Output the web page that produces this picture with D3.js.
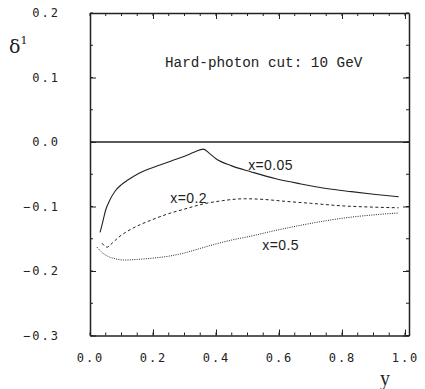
<!DOCTYPE html>
<html>
<head>
<meta charset="utf-8">
<script src="https://cdn.jsdelivr.net/npm/d3@7"></script>
<style>
  body { margin: 0; background: #fff; }
  svg { display: block; }
  .tick text { font-family: "DejaVu Sans Mono", monospace; font-size: 12px; letter-spacing: 2px; fill: #222; }
</style>
</head>
<body>
<svg id="chart" width="425" height="389"></svg>
<script>
// values
let xTicks = [0.0, 0.2, 0.4, 0.6, 0.8, 1.0];
let yTicks = [-0.3, -0.2, -0.1, 0.0, 0.1, 0.2];

// x = 0.05 (solid)
let ySolid = [0.032, 0.04, 0.05, 0.063, 0.08, 0.1, 0.12, 0.15, 0.18, 0.22, 0.26, 0.30, 0.33, 0.36, 0.38, 0.40, 0.45, 0.51, 0.59, 0.67, 0.75, 0.83, 0.90, 0.98];
let dSolid = [-0.140, -0.125, -0.105, -0.090, -0.076, -0.066, -0.059, -0.050, -0.043, -0.036, -0.029, -0.022, -0.016, -0.011, -0.018, -0.026, -0.037, -0.046, -0.057, -0.065, -0.072, -0.077, -0.081, -0.085];

// x = 0.2 (dashed)
let yDash = [0.038, 0.054, 0.07, 0.09, 0.12, 0.16, 0.20, 0.25, 0.30, 0.36, 0.42, 0.49, 0.55, 0.62, 0.70, 0.80, 0.90, 0.98];
let dDash = [-0.157, -0.163, -0.157, -0.148, -0.138, -0.128, -0.120, -0.111, -0.104, -0.096, -0.091, -0.088, -0.089, -0.092, -0.095, -0.099, -0.101, -0.102];

// x = 0.5 (dotted)
let yDot = [0.022, 0.04, 0.06, 0.08, 0.11, 0.15, 0.20, 0.25, 0.30, 0.35, 0.40, 0.45, 0.51, 0.59, 0.67, 0.75, 0.82, 0.90, 0.98];
let dDot = [-0.163, -0.172, -0.178, -0.181, -0.183, -0.182, -0.180, -0.177, -0.172, -0.165, -0.158, -0.152, -0.146, -0.137, -0.129, -0.122, -0.117, -0.113, -0.110];

let curveNames = ["x=0.05", "x=0.2", "x=0.5"];
let labelX = [0.502, 0.255, 0.547];
let labelY = [-0.0434, -0.0946, -0.167];

let svg = d3.select("#chart");

let pLeft = 90, pRight = 409, pTop = 13, pBottom = 335.5;

let xScale = d3.scaleLinear().domain([0, 1.0127]).range([pLeft, pRight]);
let yScale = d3.scaleLinear().domain([-0.3, 0.2]).range([pBottom, pTop]);

let minorX = d3.range(0, 1.0001, 0.05);
let minorY = d3.range(-0.3, 0.2001, 0.05);

// minor ticks on all four sides, pointing inward
let g = svg.append("g").attr("stroke", "#222").attr("stroke-width", 1);
g.selectAll(".mxb").data(minorX).enter().append("line")
  .attr("x1", d => xScale(d)).attr("x2", d => xScale(d))
  .attr("y1", pBottom).attr("y2", pBottom - 3);
g.selectAll(".mxt").data(minorX).enter().append("line")
  .attr("x1", d => xScale(d)).attr("x2", d => xScale(d))
  .attr("y1", pTop).attr("y2", pTop + 3);
g.selectAll(".myl").data(minorY).enter().append("line")
  .attr("y1", d => yScale(d)).attr("y2", d => yScale(d))
  .attr("x1", pLeft).attr("x2", pLeft + 3);
g.selectAll(".myr").data(minorY).enter().append("line")
  .attr("y1", d => yScale(d)).attr("y2", d => yScale(d))
  .attr("x1", pRight).attr("x2", pRight - 3);

// major axes
svg.append("g").attr("transform", "translate(0," + pBottom + ")")
  .call(d3.axisBottom(xScale).tickValues(xTicks).tickFormat(d3.format(".1f")).tickSizeInner(-6).tickSizeOuter(0).tickPadding(18));
svg.append("g").attr("transform", "translate(" + pLeft + ",0)")
  .call(d3.axisLeft(yScale).tickValues(yTicks).tickFormat(d3.format(".1f")).tickSizeInner(-6).tickSizeOuter(0).tickPadding(30));
svg.append("g").attr("transform", "translate(0," + pTop + ")")
  .call(d3.axisTop(xScale).tickValues(xTicks).tickFormat("").tickSizeInner(-6).tickSizeOuter(0));
svg.append("g").attr("transform", "translate(" + pRight + ",0)")
  .call(d3.axisRight(yScale).tickValues(yTicks).tickFormat("").tickSizeInner(-6).tickSizeOuter(0));

svg.selectAll(".domain").attr("stroke", "#222").attr("stroke-width", 1.5);
svg.selectAll(".tick line").attr("stroke", "#222");

// zero line
svg.append("line")
  .attr("x1", pLeft).attr("x2", pRight)
  .attr("y1", yScale(0)).attr("y2", yScale(0))
  .attr("stroke", "#222").attr("stroke-width", 1.3);

// curves
let line = d3.line()
  .x(d => xScale(d[0]))
  .y(d => yScale(d[1]))
  .curve(d3.curveMonotoneX);

let series = [
  { xs: ySolid, ys: dSolid, dash: null, w: 1.1 },
  { xs: yDash, ys: dDash, dash: "3,2.5", w: 1 },
  { xs: yDot, ys: dDot, dash: "1,1.3", w: 1 }
];

series.forEach(s => {
  svg.append("path")
    .attr("d", line(s.xs.map((v, i) => [v, s.ys[i]])))
    .attr("fill", "none")
    .attr("stroke", "#222")
    .attr("stroke-width", s.w)
    .attr("stroke-dasharray", s.dash);
});

// curve labels
svg.selectAll(".clabel").data(curveNames).enter().append("text")
  .attr("x", (d, i) => xScale(labelX[i]))
  .attr("y", (d, i) => yScale(labelY[i]))
  .attr("font-family", "Liberation Sans, Arial, sans-serif")
  .attr("font-size", 14)
  .attr("letter-spacing", 0.4)
  .attr("fill", "#222")
  .text(d => d);

// annotation
svg.append("text")
  .attr("x", 165).attr("y", 67)
  .attr("font-family", "Liberation Mono, monospace")
  .attr("font-size", 14.3)
  .attr("fill", "#222")
  .text("Hard-photon cut: 10 GeV");

// axis titles
let yt = svg.append("text")
  .attr("x", 9).attr("y", 53)
  .attr("font-family", "DejaVu Serif, serif")
  .attr("font-size", 19)
  .attr("fill", "#222");
yt.append("tspan").text("δ");
yt.append("tspan").attr("font-size", 11).attr("dy", -9).text("1");

svg.append("text")
  .attr("x", 380).attr("y", 385)
  .attr("font-family", "Liberation Serif, serif")
  .attr("font-size", 20)
  .attr("fill", "#222")
  .text("y");
</script>
</body>
</html>
